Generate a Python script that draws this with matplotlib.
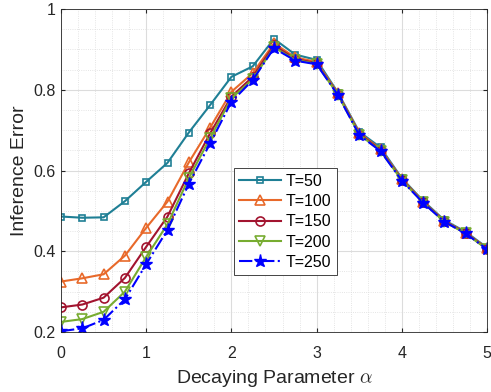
import matplotlib
matplotlib.use("Agg")
import matplotlib.pyplot as plt
from matplotlib.ticker import MultipleLocator

plt.rcParams['font.family'] = ['Liberation Sans', 'DejaVu Sans']
plt.rcParams['mathtext.fontset'] = 'cm'

alpha = [0, 0.25, 0.5, 0.75, 1, 1.25, 1.5, 1.75, 2, 2.25, 2.5, 2.75, 3,
         3.25, 3.5, 3.75, 4, 4.25, 4.5, 4.75, 5]

t50 = [0.486, 0.483, 0.484, 0.524, 0.572, 0.619, 0.694, 0.762, 0.832, 0.858, 0.926,
       0.887, 0.874, 0.793, 0.696, 0.657, 0.581, 0.525, 0.477, 0.448, 0.409]
t100 = [0.325, 0.333, 0.343, 0.389, 0.458, 0.523, 0.620, 0.706, 0.795, 0.841, 0.915,
        0.880, 0.869, 0.791, 0.693, 0.653, 0.579, 0.523, 0.475, 0.446, 0.407]
t150 = [0.261, 0.268, 0.285, 0.334, 0.411, 0.486, 0.593, 0.692, 0.783, 0.832, 0.910,
        0.876, 0.866, 0.789, 0.691, 0.651, 0.577, 0.522, 0.474, 0.445, 0.406]
t200 = [0.225, 0.232, 0.250, 0.300, 0.386, 0.467, 0.581, 0.680, 0.779, 0.826, 0.905,
        0.874, 0.864, 0.788, 0.689, 0.649, 0.576, 0.521, 0.473, 0.444, 0.405]
t250 = [0.202, 0.209, 0.230, 0.281, 0.368, 0.453, 0.567, 0.667, 0.770, 0.824, 0.903,
        0.872, 0.863, 0.787, 0.688, 0.648, 0.575, 0.520, 0.473, 0.444, 0.405]

labels = ['T=50', 'T=100', 'T=150', 'T=200', 'T=250']
xticks = [0, 1, 2, 3, 4, 5]
yticks = [0.2, 0.4, 0.6, 0.8, 1.0]
yticklabels = ['0.2', '0.4', '0.6', '0.8', '1']

fig = plt.figure(figsize=(4.91, 3.92), dpi=100)
ax = fig.add_axes([61/491, 1-332/392, 426/491, 323/392])

ax.plot(alpha, t50, color='#1f7f95', marker='s', ms=5, mfc='none', mew=1.2, lw=1.5, label=labels[0])
ax.plot(alpha, t100, color='#e8692a', marker='^', ms=7, mfc='none', mew=1.2, lw=1.5, label=labels[1])
ax.plot(alpha, t150, color='#a2142f', marker='o', ms=6.5, mfc='none', mew=1.2, lw=1.5, label=labels[2])
ax.plot(alpha, t200, color='#77ac30', marker='v', ms=7, mfc='none', mew=1.2, lw=1.5, label=labels[3])
ax.plot(alpha, t250, color='#0000ff', marker='*', ms=9.5, mfc='#0000ff', mew=1, lw=1.5,
        ls='-.', label=labels[4])

ax.set_xlim(0, 5)
ax.set_ylim(0.2, 1.0)
ax.set_xticks(xticks)
ax.set_yticks(yticks)
ax.set_yticklabels(yticklabels)
ax.xaxis.set_minor_locator(MultipleLocator(0.2))
ax.yaxis.set_minor_locator(MultipleLocator(0.05))
ax.grid(True, which='major', color='#dcdcdc', lw=0.8)
ax.grid(True, which='minor', color='#dcdcdc', lw=0.6, ls=':')
ax.set_axisbelow(True)
ax.tick_params(which='both', direction='in', top=True, right=True, labelsize=11.5,
               colors='#262626', length=3)
ax.tick_params(axis='x', which='major', pad=10)
ax.tick_params(axis='y', which='major', pad=4)
ax.tick_params(which='minor', length=0)
for s in ax.spines.values():
    s.set_color('#262626')
    s.set_linewidth(0.6)

ax.set_xlabel(r'Decaying Parameter $\alpha$', fontsize=14, color='#262626', labelpad=5)
ax.set_ylabel('Inference Error', fontsize=14, color='#262626', labelpad=4)

leg = ax.legend(loc='lower left', bbox_to_anchor=(0.405, 0.175), fontsize=11.5,
                fancybox=False, framealpha=1, edgecolor='#262626', handlelength=2.6,
                borderpad=0.35, labelspacing=0.33, handletextpad=0.3, borderaxespad=0)
leg.get_frame().set_linewidth(0.6)

fig.savefig('out.png', dpi=100)
